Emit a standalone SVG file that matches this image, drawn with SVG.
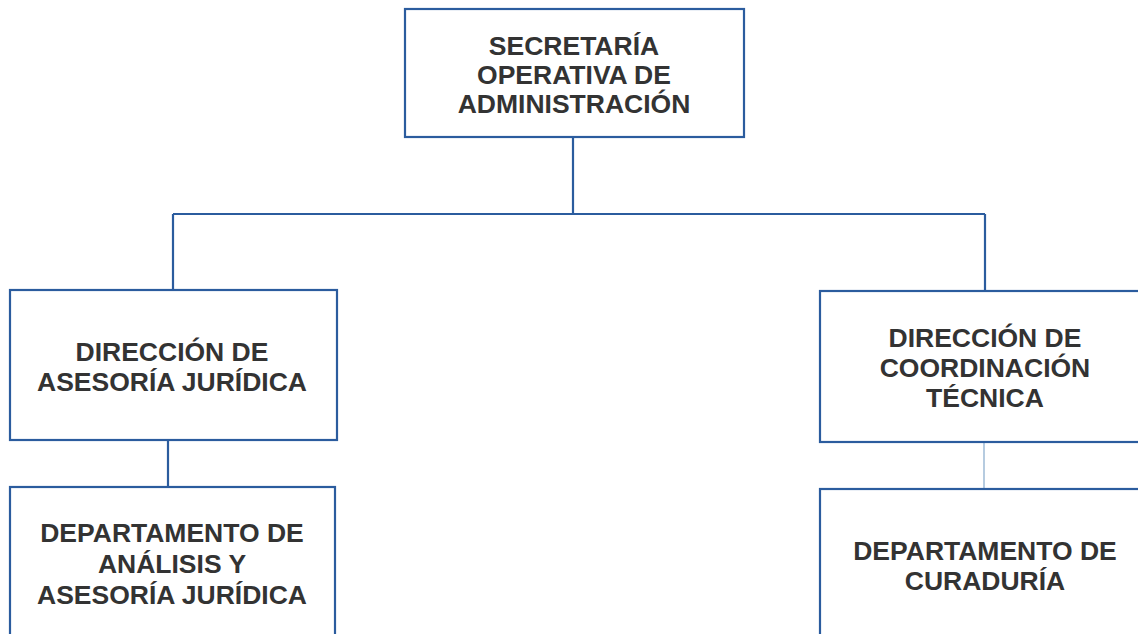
<svg xmlns="http://www.w3.org/2000/svg" width="1138" height="634" viewBox="0 0 1138 634">
<style>
.box{fill:#ffffff;stroke:#2b5c9e;stroke-width:2.2}
.ln{fill:none;stroke:#2b5c9e;stroke-width:2.2}
.thin{fill:none;stroke:#8fb0cf;stroke-width:1.3}
text{font-family:"Liberation Sans",Arial,sans-serif;font-weight:bold;font-size:26.5px;fill:#333333;text-anchor:middle}
</style>
<rect width="1138" height="634" fill="#ffffff"/>
<g id="connectors">
<path class="ln" d="M573,137 V214 M173,214 H985 M173,214 V290 M985,214 V291 M168,440 V487"/>
<path class="thin" d="M984,442 V489"/>
</g>
<g id="secretaria">
<rect class="box" x="405" y="9" width="339" height="128"/>
<text x="574" y="55">SECRETARÍA</text>
<text x="574" y="84">OPERATIVA DE</text>
<text x="574" y="113">ADMINISTRACIÓN</text>
</g>
<g id="dir-asesoria">
<rect class="box" x="10" y="290" width="327" height="150"/>
<text x="172" y="361">DIRECCIÓN DE</text>
<text x="172" y="391">ASESORÍA JURÍDICA</text>
</g>
<g id="dir-coordinacion">
<rect class="box" x="820" y="291" width="330" height="151"/>
<text x="985" y="347">DIRECCIÓN DE</text>
<text x="985" y="377">COORDINACIÓN</text>
<text x="985" y="407">TÉCNICA</text>
</g>
<g id="dep-analisis">
<rect class="box" x="10" y="487" width="325" height="160"/>
<text x="172" y="542">DEPARTAMENTO DE</text>
<text x="172" y="573">ANÁLISIS Y</text>
<text x="172" y="604">ASESORÍA JURÍDICA</text>
</g>
<g id="dep-curaduria">
<rect class="box" x="820" y="489" width="330" height="160"/>
<text x="985" y="560">DEPARTAMENTO DE</text>
<text x="985" y="590">CURADURÍA</text>
</g>
</svg>
